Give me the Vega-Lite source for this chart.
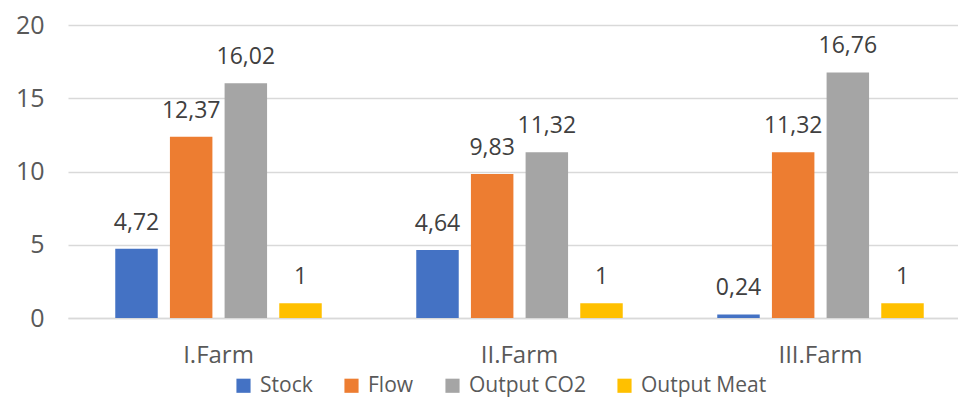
{
  "$schema": "https://vega.github.io/schema/vega-lite/v6.json",
  "autosize": {"type": "none"},
  "width": 903,
  "height": 293,
  "padding": {"left": 68, "top": 25, "right": 0, "bottom": 83},
  "background": "white",
  "config": {
    "locale": {"number": {"decimal": ",", "thousands": ".", "grouping": [3], "currency": ["", ""]}},
    "font": "Open Sans",
    "view": {"stroke": null}
  },
  "data": {
    "values": [
      {"farm": "I.Farm", "series": "Stock", "value": 4.72},
      {"farm": "I.Farm", "series": "Flow", "value": 12.37},
      {"farm": "I.Farm", "series": "Output CO2", "value": 16.02},
      {"farm": "I.Farm", "series": "Output Meat", "value": 1},
      {"farm": "II.Farm", "series": "Stock", "value": 4.64},
      {"farm": "II.Farm", "series": "Flow", "value": 9.83},
      {"farm": "II.Farm", "series": "Output CO2", "value": 11.32},
      {"farm": "II.Farm", "series": "Output Meat", "value": 1},
      {"farm": "III.Farm", "series": "Stock", "value": 0.24},
      {"farm": "III.Farm", "series": "Flow", "value": 11.32},
      {"farm": "III.Farm", "series": "Output CO2", "value": 16.76},
      {"farm": "III.Farm", "series": "Output Meat", "value": 1}
    ]
  },
  "encoding": {
    "x": {
      "field": "farm", "type": "nominal", "sort": null, "title": null,
      "scale": {"paddingInner": 0.314, "paddingOuter": 0.157},
      "axis": {"labelAngle": 0, "labelFontSize": 24, "labelColor": "#595959", "labelPadding": 44,
               "labelBaseline": "alphabetic",
               "ticks": false, "domainColor": "#d9d9d9", "domainWidth": 1.5}
    },
    "xOffset": {"field": "series", "type": "nominal", "sort": ["Stock", "Flow", "Output CO2", "Output Meat"],
                "scale": {"paddingInner": 0.223, "paddingOuter": 0}},
    "y": {
      "field": "value", "type": "quantitative", "title": null,
      "scale": {"domain": [0, 20], "nice": false},
      "axis": {"values": [0, 5, 10, 15, 20], "labelFontSize": 25, "labelColor": "#595959", "labelPadding": 24,
               "ticks": false, "domain": false, "gridColor": "#d9d9d9", "gridWidth": 1.5}
    }
  },
  "layer": [
    {
      "mark": {"type": "bar"},
      "encoding": {
        "color": {
          "field": "series", "type": "nominal", "title": null,
          "sort": ["Stock", "Flow", "Output CO2", "Output Meat"],
          "scale": {"domain": ["Stock", "Flow", "Output CO2", "Output Meat"],
                    "range": ["#4472C4", "#ED7D31", "#A5A5A5", "#FFC000"]},
          "legend": {"orient": "none", "legendX": 165, "legendY": 350, "direction": "horizontal", "columns": 4,
                     "symbolType": "square", "symbolSize": 200,
                     "symbolStrokeWidth": 0, "labelFontSize": 21, "labelColor": "#595959", "columnPadding": 28,
                     "labelOffset": 6, "padding": 0}
        }
      }
    },
    {
      "mark": {"type": "text", "baseline": "alphabetic", "dy": -19, "fontSize": 23, "color": "#404040"},
      "encoding": {
        "text": {"field": "value", "type": "quantitative", "format": ".4~g"}
      }
    }
  ]
}
